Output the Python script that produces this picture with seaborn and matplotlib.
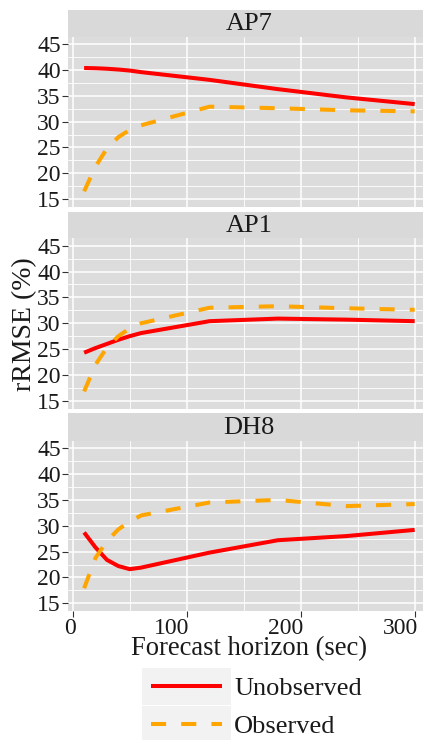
import matplotlib
matplotlib.use("Agg")
import matplotlib.pyplot as plt
from matplotlib.patches import Rectangle
from matplotlib.ticker import MultipleLocator
from matplotlib.transforms import ScaledTranslation
import pandas as pd
import seaborn as sns

# Forecast horizons (seconds)
horizon = [10, 20, 30, 40, 50, 60, 120, 180, 240, 300]
sites = ["AP7", "AP1", "DH8"]
models = ["Unobserved", "Observed"]

# rRMSE (%) per site and model
ap7_unobserved = [40.4, 40.35, 40.25, 40.1, 39.9, 39.6, 38.1, 36.3, 34.7, 33.4]
ap7_observed = [16.5, 21.3, 24.8, 27.0, 28.4, 29.3, 32.9, 32.6, 32.2, 32.0]
ap1_unobserved = [24.3, 25.2, 26.0, 26.8, 27.5, 28.1, 30.4, 30.9, 30.7, 30.4]
ap1_observed = [16.8, 22.0, 25.3, 27.5, 29.0, 30.0, 33.0, 33.3, 32.9, 32.6]
dh8_unobserved = [28.7, 25.8, 23.4, 22.2, 21.6, 21.9, 24.8, 27.2, 28.0, 29.2]
dh8_observed = [17.9, 23.8, 27.0, 29.3, 30.8, 32.0, 34.5, 35.0, 33.8, 34.2]

series = {
    ("AP7", "Unobserved"): ap7_unobserved,
    ("AP7", "Observed"): ap7_observed,
    ("AP1", "Unobserved"): ap1_unobserved,
    ("AP1", "Observed"): ap1_observed,
    ("DH8", "Unobserved"): dh8_unobserved,
    ("DH8", "Observed"): dh8_observed,
}
rows = []
for (site, model), vals in series.items():
    for h, v in zip(horizon, vals):
        rows.append({"site": site, "model": model, "horizon": h, "rrmse": v})
df = pd.DataFrame(rows)

sns.set_theme(style="darkgrid")
plt.rcParams["font.family"] = ["Liberation Serif", "DejaVu Serif"]

W, H = 423, 740
fig = plt.figure(figsize=(W / 100, H / 100), dpi=100)
fig.patch.set_facecolor("white")

palette = {"Unobserved": "#FF0000", "Observed": "#FFA500"}
dashes = {"Unobserved": "", "Observed": (3.75, 3.75)}
LW = 2.9
PANEL_BG = "#DCDCDC"
STRIP_BG = "#D9D9D9"
TXT = "#1A1A1A"

left, right = 67.6, 431.2
layout = [  # strip top, strip bottom / panel top, panel bottom (pixels)
    (10.0, 36.5, 206.8),
    (211.5, 238.0, 408.5),
    (413.0, 440.5, 611.0),
]


def frac(x0, y0, x1, y1):
    return [x0 / W, 1 - y1 / H, (x1 - x0) / W, (y1 - y0) / H]


for i, (site, (s_top, p_top, p_bot)) in enumerate(zip(sites, layout)):
    sax = fig.add_axes(frac(left, s_top, right, p_top))
    sax.set_facecolor(STRIP_BG)
    sax.set_xticks([])
    sax.set_yticks([])
    for sp in sax.spines.values():
        sp.set_visible(False)
    sax.text(0.5, 0.47, site, ha="center", va="center", fontsize=19,
             color=TXT, transform=sax.transAxes)

    ax = fig.add_axes(frac(left, p_top, right, p_bot))
    ax.set_facecolor(PANEL_BG)
    sns.lineplot(data=df[df["site"] == site], x="horizon", y="rrmse",
                 hue="model", style="model", hue_order=models,
                 style_order=models, palette=palette, dashes=dashes,
                 linewidth=LW, legend=False, ax=ax)
    for ln in ax.get_lines():
        ln.set_dash_capstyle("butt")
        ln.set_solid_capstyle("butt")
    ax.set_xlim(-4.5, 314.5)
    ax.set_ylim(13.5, 46.5)
    ax.xaxis.set_major_locator(MultipleLocator(100))
    ax.xaxis.set_minor_locator(MultipleLocator(50))
    ax.yaxis.set_major_locator(MultipleLocator(5))
    ax.yaxis.set_minor_locator(MultipleLocator(2.5))
    ax.grid(which="major", color="white", linewidth=1.1)
    ax.grid(which="minor", color="white", linewidth=0.6)
    ax.set_axisbelow(True)
    for sp in ax.spines.values():
        sp.set_visible(False)
    ax.set_xlabel("")
    ax.set_ylabel("")
    ax.tick_params(axis="y", which="major", left=True, length=4, width=0.8,
                   color="#333333", labelsize=17, labelcolor=TXT, pad=1)
    ax.tick_params(axis="both", which="minor", length=0)
    if i == len(sites) - 1:
        ax.tick_params(axis="x", which="major", bottom=True, length=4,
                       width=0.8, color="#333333", labelsize=17,
                       labelcolor=TXT, pad=1)
        shift = ScaledTranslation(3 / 100, 0, fig.dpi_scale_trans)
        for lab in ax.get_xticklabels():
            lab.set_horizontalalignment("right")
            lab.set_transform(lab.get_transform() + shift)
    else:
        ax.tick_params(axis="x", which="major", bottom=False,
                       labelbottom=False)

# Axis titles
fig.text(249.4 / W, 1 - 655 / H, "Forecast horizon (sec)", ha="center",
         va="baseline", fontsize=19.2, color=TXT)
fig.text(25 / W, 1 - 323.7 / H, "rRMSE (%)", ha="center", va="center",
         rotation=90, fontsize=20, color=TXT)

# Legend at the bottom
lax = fig.add_axes([0, 0, 1, 1], facecolor="none")
lax.set_xlim(0, W)
lax.set_ylim(H, 0)
lax.axis("off")
key_rows = [(667.7, 705.0, 686.0, 695.0), (706.0, 744.0, 724.3, 733.3)]
for model, (k_top, k_bot, y_line, y_text) in zip(models, key_rows):
    lax.add_patch(Rectangle((142.3, k_top), 88.4, k_bot - k_top,
                            facecolor="#F2F2F2", edgecolor="none"))
    ln, = lax.plot([150.7, 222.3], [y_line, y_line], color=palette[model],
                   linewidth=LW, solid_capstyle="butt", dash_capstyle="butt")
    if dashes[model]:
        ln.set_dashes(dashes[model])
    lax.text(234, y_text, model, ha="left", va="baseline", fontsize=19,
             color=TXT)

fig.savefig("out.png", dpi=100)
